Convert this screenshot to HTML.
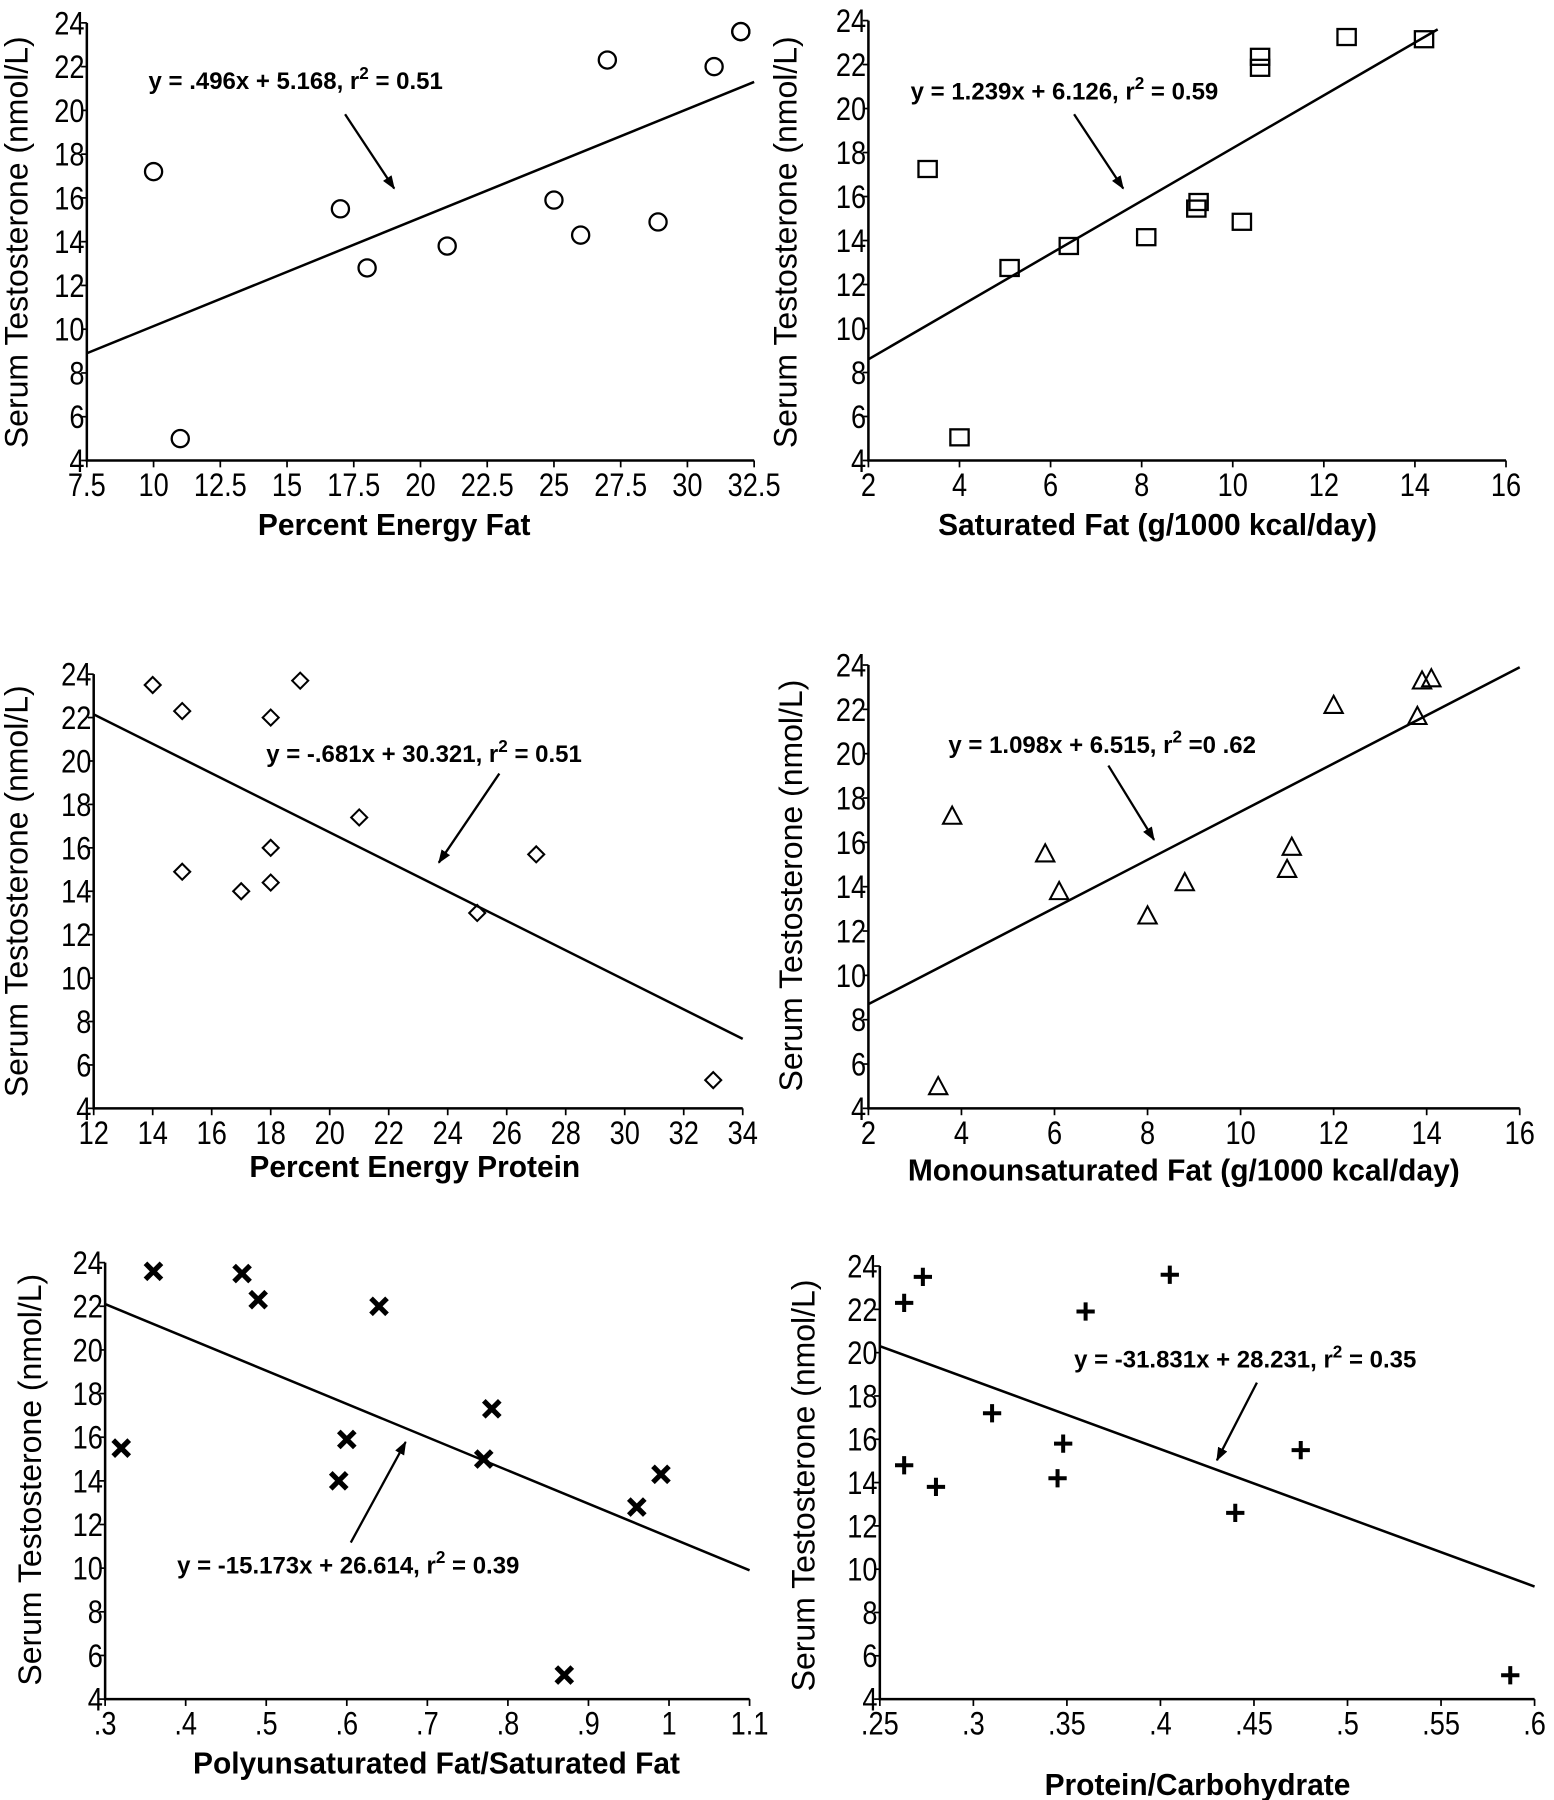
<!DOCTYPE html>
<html><head><meta charset="utf-8"><style>
html,body{margin:0;padding:0;background:#fff;}
svg{display:block;}
text{font-family:"Liberation Sans",sans-serif;fill:#000;}
</style></head><body>
<svg id="s" width="1554" height="1800" viewBox="0 0 1360 1575.3" preserveAspectRatio="none" xmlns="http://www.w3.org/2000/svg"></svg>
<script>
var P=[
{ax:76,ay0:403,ay1:20,x0:7.5,x1:32.5,px1:660,ticks:["7.5","10","12.5","15","17.5","20","22.5","25","27.5","30","32.5"],tv:[7.5,10,12.5,15,17.5,20,22.5,25,27.5,30,32.5],
 xl:"Percent Energy Fat",xlx:345,xly:468,ylx:24,yly:212,yl:"Serum Testosterone  (nmol/L)",m:"o",
 d:[[10,17.2],[11,5],[17,15.5],[18,12.8],[21,13.8],[25,15.9],[26,14.3],[27,22.3],[28.9,14.9],[31,22],[32,23.6],[32,23.6]],
 l:[7.5,8.9,32.5,21.3],eq:"y = .496x + 5.168, r",eqv:" = 0.51",ex:130,ey:78,ar:[302,100,345,165]},
{ax:760,ay0:403,ay1:18,x0:2,x1:16,px1:1318,tv:[2,4,6,8,10,12,14,16],
 xl:"Saturated Fat (g/1000 kcal/day)",xlx:1013,xly:468,ylx:697,yly:212,yl:"Serum Testosterone (nmol/L)",m:"s",
 d:[[3.3,17.2],[4,5],[5.1,12.7],[6.4,13.7],[8.1,14.1],[9.2,15.4],[9.25,15.7],[10.2,14.8],[10.6,21.8],[10.6,22.3],[12.5,23.2],[14.2,23.1]],
 l:[2,8.6,14.5,23.6],eq:"y = 1.239x + 6.126, r",eqv:" = 0.59",ex:797,ey:87,ar:[940,100,983,165]},
{ax:82,ay0:970,ay1:590,x0:12,x1:34,px1:650,tv:[12,14,16,18,20,22,24,26,28,30,32,34],
 xl:"Percent Energy Protein",xlx:363,xly:1030,ylx:24,yly:780,yl:"Serum Testosterone (nmol/L)",m:"d",
 d:[[14,23.5],[15,22.3],[15,14.9],[17,14],[18,22],[18,16],[18,14.4],[19,23.7],[21,17.4],[25,13],[27,15.7],[33,5.3]],
 l:[12,22.15,34,7.2],eq:"y = -.681x + 30.321, r",eqv:" = 0.51",ex:233,ey:667,ar:[437,677,384,755]},
{ax:760,ay0:970,ay1:582,x0:2,x1:16,px1:1330,tv:[2,4,6,8,10,12,14,16],
 xl:"Monounsaturated Fat (g/1000 kcal/day)",xlx:1036,xly:1033,ylx:702,yly:775,yl:"Serum Testosterone (nmol/L)",m:"t",
 d:[[3.5,5],[3.8,17.2],[5.8,15.5],[6.1,13.8],[8,12.7],[8.8,14.2],[11,14.8],[11.1,15.8],[12,22.2],[13.8,21.7],[13.9,23.3],[14.1,23.4]],
 l:[2,8.7,16,23.9],eq:"y = 1.098x + 6.515, r",eqv:" =0 .62",ex:830,ey:659,ar:[970,670,1010,735]},
{ax:92,ay0:1487,ay1:1105,x0:0.3,x1:1.1,px1:656,ticks:[".3",".4",".5",".6",".7",".8",".9","1","1.1"],tv:[.3,.4,.5,.6,.7,.8,.9,1,1.1],
 xl:"Polyunsaturated Fat/Saturated Fat",xlx:382,xly:1552,ylx:36,yly:1295,yl:"Serum Testosterone (nmol/L)",m:"x",
 d:[[.36,23.6],[.32,15.5],[.47,23.5],[.49,22.3],[.64,22],[.59,14],[.6,15.9],[.77,15],[.78,17.3],[.87,5.1],[.96,12.8],[.99,14.3]],
 l:[.3,22.1,1.1,9.9],eq:"y = -15.173x + 26.614, r",eqv:" = 0.39",ex:155,ey:1377,ar:[307,1350,355,1262]},
{ax:770,ay0:1487,ay1:1108,x0:.25,x1:.6,px1:1343,ticks:[".25",".3",".35",".4",".45",".5",".55",".6"],tv:[.25,.3,.35,.4,.45,.5,.55,.6],
 xl:"Protein/Carbohydrate",xlx:1048,xly:1571,ylx:713,yly:1300,yl:"Serum Testosterone (nmol/L)",m:"p",
 d:[[.263,22.3],[.273,23.5],[.263,14.8],[.28,13.8],[.31,17.2],[.345,14.2],[.348,15.8],[.36,21.9],[.405,23.6],[.44,12.6],[.475,15.5],[.587,5.1]],
 l:[.25,20.3,.6,9.2],eq:"y = -31.831x + 28.231, r",eqv:" = 0.35",ex:940,ey:1197,ar:[1100,1210,1065,1278]}
];
var h='<defs><marker id="ah" markerWidth="12" markerHeight="10" refX="11" refY="4.5" orient="auto" markerUnits="userSpaceOnUse"><path d="M0,0L12,4.5L0,9z" fill="#000"/></marker></defs>';
P.forEach(function(p){
 function X(v){return p.ax+(v-p.x0)/(p.x1-p.x0)*(p.px1-p.ax);}
 function Y(v){return p.ay0-(v-4)/20*(p.ay0-p.ay1);}
 h+='<path d="M'+p.ax+','+p.ay1+'V'+p.ay0+'H'+p.px1+'" stroke="#000" stroke-width="2.2" fill="none"/>';
 for(var v=4;v<=24;v+=2){var y=Y(v);h+='<line x1="'+(p.ax-5)+'" x2="'+p.ax+'" y1="'+y+'" y2="'+y+'" stroke="#000" stroke-width="1.5"/>';
  h+='<text font-size="28" text-anchor="end" transform="translate('+(p.ax-2)+','+(y+10)+') scale(0.85,1)">'+v+'</text>';}
 p.tv.forEach(function(v,i){var x=X(v);var t=p.ticks?p.ticks[i]:String(v);
  h+='<line x1="'+x+'" x2="'+x+'" y1="'+p.ay0+'" y2="'+(p.ay0+6)+'" stroke="#000" stroke-width="1.5"/>';
  h+='<text font-size="28" text-anchor="middle" transform="translate('+x+','+(p.ay0+31)+') scale(0.85,1)">'+t+'</text>';});
 h+='<text font-size="27" font-weight="bold" text-anchor="middle" transform="translate('+p.xlx+','+p.xly+') scale(0.97,1)">'+p.xl+'</text>';
 h+='<text font-size="28" text-anchor="middle" transform="translate('+p.ylx+','+p.yly+') rotate(-90)">'+p.yl+'</text>';
 h+='<line x1="'+X(p.l[0])+'" y1="'+Y(p.l[1])+'" x2="'+X(p.l[2])+'" y2="'+Y(p.l[3])+'" stroke="#000" stroke-width="2.2"/>';
 h+='<text x="'+p.ex+'" y="'+p.ey+'" font-size="21" font-weight="bold">'+p.eq+'<tspan dy="-9" font-size="15">2</tspan><tspan dy="9">'+p.eqv+'</tspan></text>';
 h+='<line x1="'+p.ar[0]+'" y1="'+p.ar[1]+'" x2="'+p.ar[2]+'" y2="'+p.ar[3]+'" stroke="#000" stroke-width="2" marker-end="url(#ah)"/>';
 p.d.forEach(function(d){var x=X(d[0]),y=Y(d[1]);
  if(p.m=="o")h+='<ellipse cx="'+x+'" cy="'+y+'" rx="7.5" ry="7.5" fill="none" stroke="#000" stroke-width="2"/>';
  if(p.m=="s")h+='<rect x="'+(x-8)+'" y="'+(y-8)+'" width="16" height="14" fill="none" stroke="#000" stroke-width="2"/>';
  if(p.m=="d")h+='<path d="M'+x+','+(y-7)+'L'+(x+7)+','+y+'L'+x+','+(y+7)+'L'+(x-7)+','+y+'z" fill="none" stroke="#000" stroke-width="1.8"/>';
  if(p.m=="t")h+='<path d="M'+x+','+(y-8)+'L'+(x+8)+','+(y+7)+'L'+(x-8)+','+(y+7)+'z" fill="none" stroke="#000" stroke-width="1.8"/>';
  if(p.m=="x")h+='<path d="M'+(x-7)+','+(y-7)+'L'+(x+7)+','+(y+7)+'M'+(x+7)+','+(y-7)+'L'+(x-7)+','+(y+7)+'" stroke="#000" stroke-width="4.5"/>';
  if(p.m=="p")h+='<path d="M'+(x-8)+','+y+'H'+(x+8)+'M'+x+','+(y-8)+'V'+(y+8)+'" stroke="#000" stroke-width="3.5"/>';
 });
});
document.getElementById('s').innerHTML=h;
</script>
</body></html>
